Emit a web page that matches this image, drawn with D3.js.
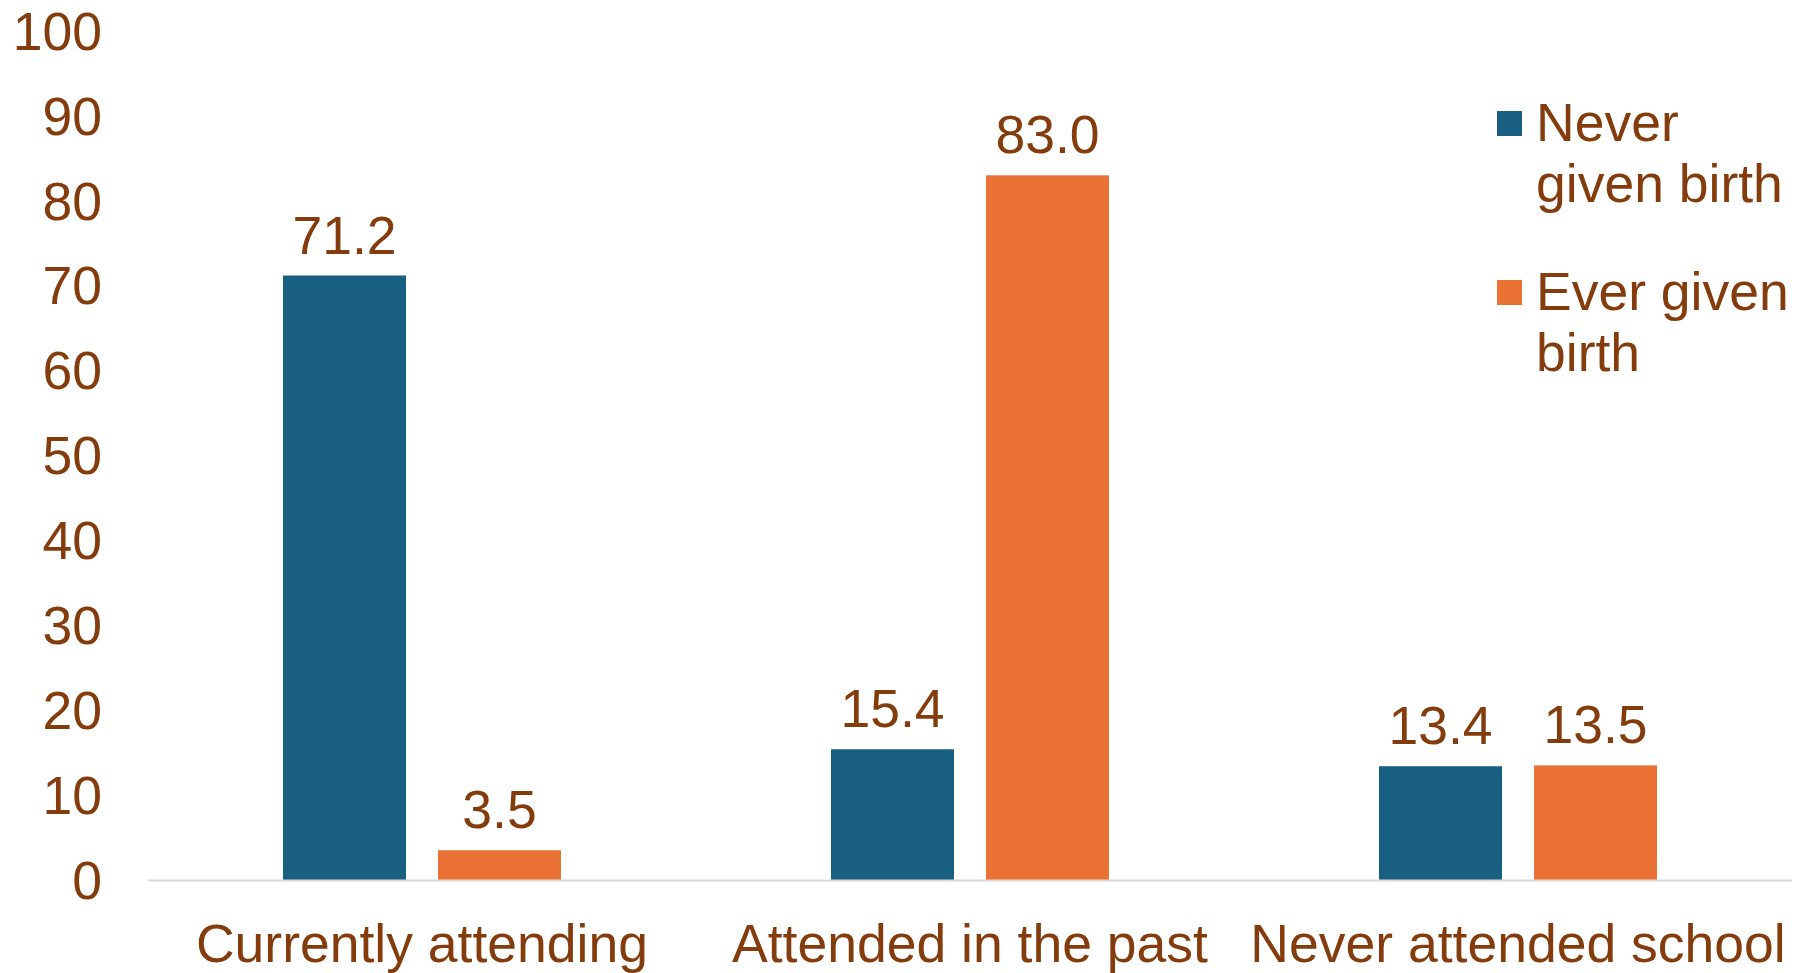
<!DOCTYPE html>
<html><head><meta charset="utf-8">
<script src="https://cdn.jsdelivr.net/npm/d3@7"></script>
<style>body{margin:0;background:#fff}svg{display:block}text{font-family:"Liberation Sans",Arial,sans-serif}</style>
</head><body><svg id="c" width="1811" height="973"></svg>
<script>
const categories = ["Currently attending", "Attended in the past", "Never attended school"];
const seriesNames = ["Never given birth", "Ever given birth"];
const neverGivenBirth = [71.2, 15.4, 13.4];
const everGivenBirth = [3.5, 83.0, 13.5];
const yTicks = [0, 10, 20, 30, 40, 50, 60, 70, 80, 90, 100];
const legendLines = [["Never", "given birth"], ["Ever given", "birth"]];
const colors = ["#185F81", "#E97234"];
const textColor = "#843C0C";
const fontSize = 53.5;

const svg = d3.select("#c");
const plotLeft = 148, plotRight = 1792, plotTop = 31, plotBottom = 880;

const x = d3.scaleBand().domain(categories).range([plotLeft, plotRight]).paddingInner(0.4927).paddingOuter(0.24635);
const xs = d3.scaleBand().domain(seriesNames).range([0, x.bandwidth()]).paddingInner(0.2065).paddingOuter(0);
const y = d3.scaleLinear().domain([0, 100]).range([plotBottom, plotTop]);

const data = categories.map((c, i) => ({cat: c, vals: [neverGivenBirth[i], everGivenBirth[i]]}));

// y tick labels
svg.append("g").selectAll("text").data(yTicks).join("text")
  .attr("x", 102).attr("y", d => y(d)).attr("dy", "0.35em")
  .attr("text-anchor", "end").attr("font-size", fontSize).attr("fill", textColor)
  .text(d => d);

// bars
const g = svg.append("g").selectAll("g").data(data).join("g")
  .attr("transform", d => `translate(${x(d.cat)},0)`);
g.selectAll("rect").data(d => d.vals.map((v, j) => ({v, s: seriesNames[j], j}))).join("rect")
  .attr("x", d => xs(d.s)).attr("width", xs.bandwidth())
  .attr("y", d => y(d.v)).attr("height", d => y(0) - y(d.v))
  .attr("fill", d => colors[d.j]);
g.selectAll("text").data(d => d.vals.map((v, j) => ({v, s: seriesNames[j], j}))).join("text")
  .attr("x", d => xs(d.s) + xs.bandwidth() / 2).attr("y", d => y(d.v) - 22)
  .attr("text-anchor", "middle").attr("font-size", fontSize).attr("fill", textColor)
  .text(d => d.v.toFixed(1));

// baseline axis
svg.append("line").attr("x1", plotLeft).attr("x2", plotRight).attr("y1", y(0) + 0.5).attr("y2", y(0) + 0.5)
  .attr("stroke", "#D9D9D9").attr("stroke-width", 2);

// category labels
svg.append("g").selectAll("text").data(categories).join("text")
  .attr("x", d => x(d) + x.bandwidth() / 2).attr("y", 962)
  .attr("text-anchor", "middle").attr("font-size", fontSize).attr("fill", textColor)
  .text(d => d);

// legend
const lg = svg.append("g").selectAll("g").data(seriesNames).join("g")
  .attr("transform", (d, i) => `translate(1497,${141 + i * 169})`);
lg.append("rect").attr("x", 0).attr("y", -30).attr("width", 25).attr("height", 25)
  .attr("fill", (d, i) => colors[i]);
lg.append("text").attr("x", 39).attr("y", 0).attr("font-size", fontSize).attr("fill", textColor)
  .selectAll("tspan").data((d, i) => legendLines[i]).join("tspan")
  .attr("x", 39).attr("dy", (d, k) => k === 0 ? 0 : 61).text(d => d);
</script>
</body></html>
